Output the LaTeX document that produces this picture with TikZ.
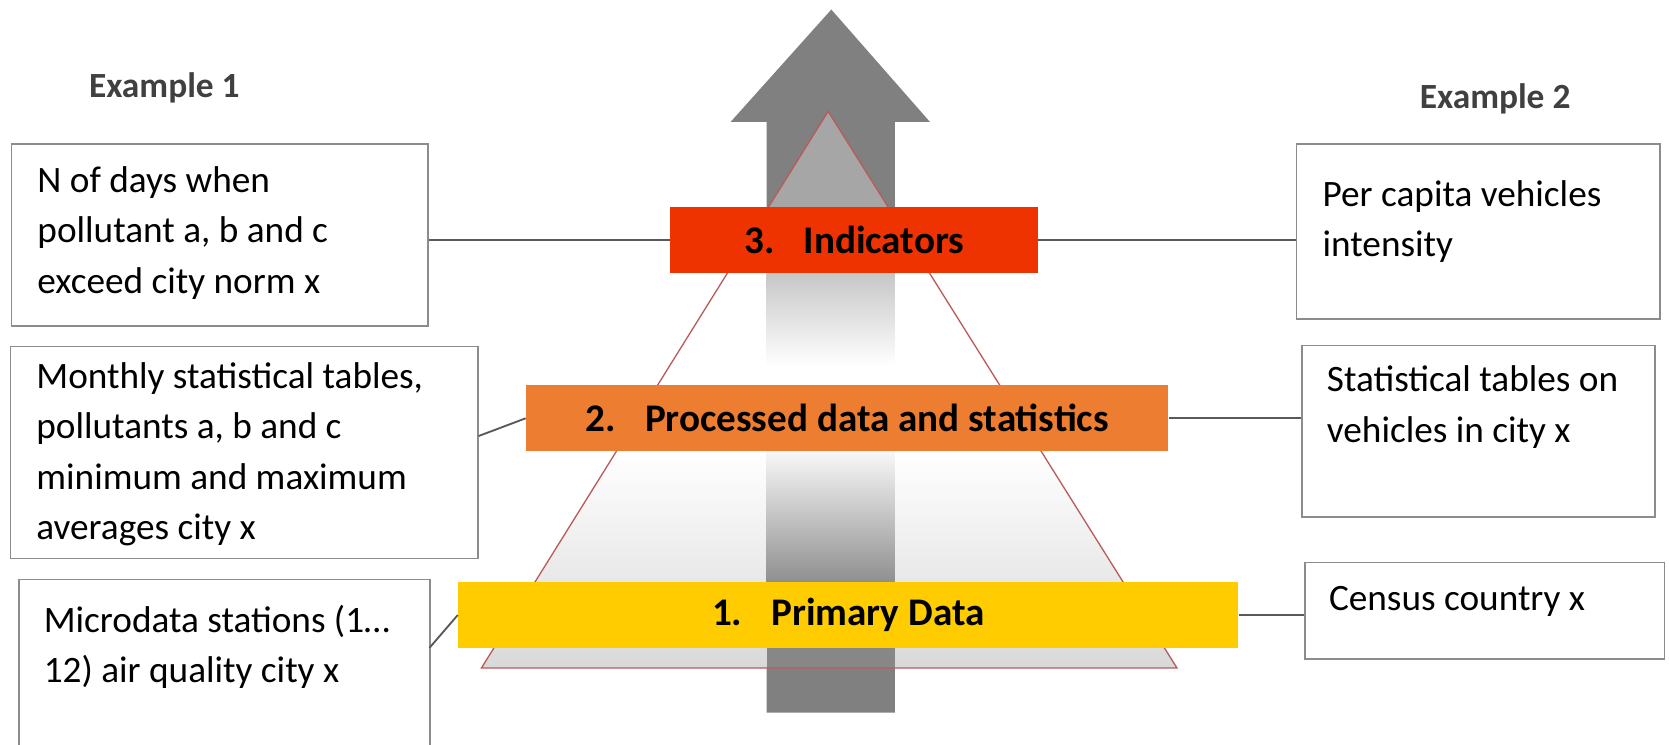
\documentclass[tikz,border=0pt]{standalone}
\usepackage{fontspec}
\setmainfont{Carlito}

\definecolor{indred}{RGB}{238,51,0}
\definecolor{procorange}{RGB}{237,125,49}
\definecolor{primyellow}{RGB}{255,204,0}
\definecolor{arrowgray}{RGB}{128,128,128}
\definecolor{linegray}{RGB}{89,89,89}
\definecolor{boxgray}{RGB}{140,140,140}
\definecolor{trired}{RGB}{185,90,90}
\definecolor{titlegray}{RGB}{64,64,64}

\begin{document}
\begin{tikzpicture}[x=0.02cm, y=-0.02cm,
    box/.style={draw=boxgray, line width=0.8pt, anchor=north west, inner sep=0pt},
    txt/.style={anchor=north west, inner sep=0pt, align=left, font=\fontsize{20}{27}\selectfont},
    bar/.style={minimum height=1.24cm, inner sep=0pt, font=\fontsize{21}{25}\selectfont\bfseries},
    title/.style={text=titlegray, font=\fontsize{19}{23}\selectfont\bfseries},
    link/.style={draw=linegray, line width=1pt}]
    \useasboundingbox (0,0) rectangle (1574,702);

    % big arrow
    \fill[arrowgray] (723,672) -- (723,115) -- (689,115) -- (784,9) -- (877,115)
        -- (844,115) -- (844,672) -- cycle;

    % pyramid, shaft seen through it
    \begin{scope}
        \clip (781,105) -- (1110,630) -- (454,630) -- cycle;
        \fill[white] (454,105) rectangle (1110,426);
        \shade[top color=white, bottom color=black!15] (454,426) rectangle (1110,630);
        \fill[black!35] (723,105) rectangle (844,200);
        \shade[top color=black!22, bottom color=white] (723,258) rectangle (844,345);
        \shade[top color=black!3, bottom color=black!45] (723,426) rectangle (844,552);
        \fill[black!47] (723,552) rectangle (844,630);
    \end{scope}
    \draw[trired, line width=0.7pt] (781,105) -- (1110,630) -- (454,630) -- cycle;

    % levels
    \node[bar, fill=indred, minimum width=6.94cm] (ind) at (805.5,226) {3.\hspace{0.55cm}Indicators};
    \node[bar, fill=procorange, minimum width=12.12cm] (proc) at (799,394.5) {2.\hspace{0.55cm}Processed data and statistics};
    \node[bar, fill=primyellow, minimum width=14.72cm] (prim) at (800,580) {1.\hspace{0.55cm}Primary Data};

    % example 1
    \node[title] (ex1) at (155,83) {Example 1};
    \node[box, minimum width=7.86cm, minimum height=3.44cm] (l3) at (10,135) {};
    \node[txt] (l3t) at (35,148) {\strut N of days when\\pollutant a, b and c\\exceed city norm x};
    \node[box, minimum width=8.82cm, minimum height=4cm] (l2) at (9,326) {};
    \node[txt] (l2t) at (34,333) {\strut Monthly statistical tables,\\pollutants a, b and c\\minimum and maximum\\averages city x};
    \node[box, minimum width=7.76cm, minimum height=4.28cm] (l1) at (17,546) {};
    \node[txt] (l1t) at (41,563) {\strut Microdata stations (1…\\12) air quality city x};

    % example 2
    \node[title] (ex2) at (1410,93) {Example 2};
    \node[box, minimum width=6.86cm, minimum height=3.3cm] (r3) at (1222,135) {};
    \node[txt] (r3t) at (1247,161) {\strut Per capita vehicles\\intensity};
    \node[box, minimum width=6.66cm, minimum height=3.24cm] (r2) at (1227,325) {};
    \node[txt] (r2t) at (1251,336) {\strut Statistical tables on\\vehicles in city x};
    \node[box, minimum width=6.78cm, minimum height=1.82cm] (r1) at (1230,530) {};
    \node[txt] (r1t) at (1253,542) {\strut Census country x};

    % connectors
    \coordinate (l1out) at (405,611);
    \draw[link] (ind.west) -- (ind.west -| l3.east);
    \draw[link] (l2.4) -- (proc.west);
    \draw[link] (l1out) -- (prim.west);
    \draw[link] (ind.east) -- (ind.east -| r3.west);
    \draw[link] (proc.east) -- (proc.east -| r2.west);
    \draw[link] (prim.east) -- (prim.east -| r1.west);
\end{tikzpicture}
\end{document}
